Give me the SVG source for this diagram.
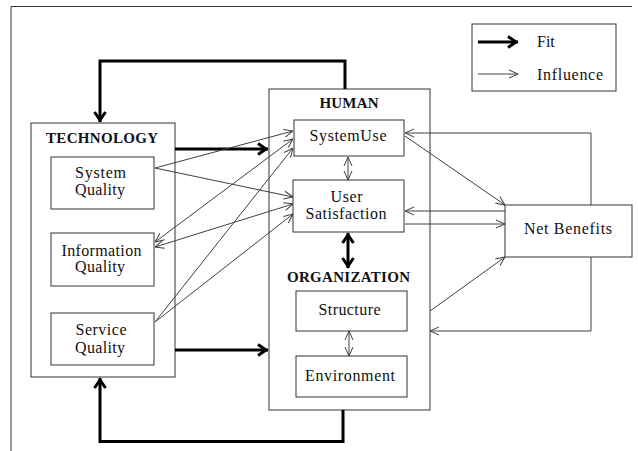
<svg xmlns="http://www.w3.org/2000/svg" width="638" height="451" viewBox="0 0 638 451">
<defs>
<style>
.box{fill:#fff;stroke:#333;stroke-width:1}
.t{font-family:"Liberation Serif","Times New Roman",serif;font-size:16px;fill:#111;text-anchor:middle}
.h{font-weight:bold;font-size:15px}
.thin{fill:none;stroke:#404040;stroke-width:1}
.thick{fill:none;stroke:#000;stroke-width:3}
</style>
<marker id="ah" viewBox="0 0 10 10" refX="10" refY="5" markerWidth="10" markerHeight="10" markerUnits="userSpaceOnUse" orient="auto-start-reverse">
<path d="M1,1 L10,5 L1,9" fill="none" stroke="#404040" stroke-width="1"/>
</marker>
<marker id="ahk" viewBox="0 0 14 14" refX="13" refY="7" markerWidth="14" markerHeight="14" markerUnits="userSpaceOnUse" orient="auto-start-reverse">
<path d="M3,1.5 L11,7 L3,12.5" fill="none" stroke="#000" stroke-width="3"/>
</marker>
</defs>
<rect width="638" height="451" fill="#fff"/>
<path d="M11,451 V6.5 H632" fill="none" stroke="#333" stroke-width="1"/>

<g id="legend">
<rect class="box" x="472" y="24" width="144" height="67"/>
<path class="thick" d="M478,42 H518" marker-end="url(#ahk)"/>
<path class="thin" d="M478,74 H518" marker-end="url(#ah)"/>
<text class="t" x="537" y="47" style="text-anchor:start">Fit</text>
<text class="t" x="537" y="80" style="text-anchor:start" textLength="66" lengthAdjust="spacing">Influence</text>
</g>

<g id="technology">
<rect class="box" x="31" y="123" width="144" height="254"/>
<text class="t h" x="102" y="143" textLength="112" lengthAdjust="spacing">TECHNOLOGY</text>
</g>

<g id="human">
<rect class="box" x="269" y="89" width="161" height="321"/>
<text class="t h" x="349" y="108" textLength="59" lengthAdjust="spacing">HUMAN</text>
<text class="t h" x="348.5" y="281.5" textLength="123" lengthAdjust="spacing">ORGANIZATION</text>
</g>

<g id="connectors">
<path class="thick" d="M345,89 V61 H100 V122" marker-end="url(#ahk)"/>
<path class="thick" d="M343,410 V441.5 H100 V378" marker-end="url(#ahk)"/>
<path class="thick" d="M175,149 H268" marker-end="url(#ahk)"/>
<path class="thick" d="M175,350 H268" marker-end="url(#ahk)"/>
<path class="thick" d="M348,233 V268" marker-start="url(#ahk)" marker-end="url(#ahk)"/>

<path class="thin" d="M348,157 V180" marker-start="url(#ah)" marker-end="url(#ah)"/>
<path class="thin" d="M349,331 V356" marker-start="url(#ah)" marker-end="url(#ah)"/>

<path class="thin" d="M155,168 L293,131" marker-end="url(#ah)"/>
<path class="thin" d="M155,168 L293,197" marker-end="url(#ah)"/>
<path class="thin" d="M155,242 L293,139" marker-start="url(#ah)" marker-end="url(#ah)"/>
<path class="thin" d="M155,247 L293,204" marker-start="url(#ah)" marker-end="url(#ah)"/>
<path class="thin" d="M155,322 L293,148" marker-end="url(#ah)"/>
<path class="thin" d="M155,322 L293,214" marker-end="url(#ah)"/>

<path class="thin" d="M591,205 V133 H405" marker-end="url(#ah)"/>
<path class="thin" d="M405,136 L505,205" marker-end="url(#ah)"/>
<path class="thin" d="M505,211 H405" marker-end="url(#ah)"/>
<path class="thin" d="M405,224 H505" marker-end="url(#ah)"/>
<path class="thin" d="M430,311 L505,257" marker-end="url(#ah)"/>
<path class="thin" d="M591,257 V331 H430" marker-end="url(#ah)"/>
</g>

<g id="system-quality">
<rect class="box" x="51" y="157" width="103" height="52"/>
<text class="t" x="100.5" y="178" textLength="51" lengthAdjust="spacing">System</text>
<text class="t" x="100" y="195" textLength="50" lengthAdjust="spacing">Quality</text>
</g>
<g id="information-quality">
<rect class="box" x="51" y="233" width="103" height="53"/>
<text class="t" x="101.5" y="255.5" textLength="80" lengthAdjust="spacing">Information</text>
<text class="t" x="100" y="272" textLength="50" lengthAdjust="spacing">Quality</text>
</g>
<g id="service-quality">
<rect class="box" x="51" y="313" width="103" height="52"/>
<text class="t" x="101" y="335" textLength="51" lengthAdjust="spacing">Service</text>
<text class="t" x="100" y="352.5" textLength="50" lengthAdjust="spacing">Quality</text>
</g>
<g id="system-use">
<rect class="box" x="294" y="120" width="110" height="36"/>
<text class="t" x="348" y="141" textLength="77" lengthAdjust="spacing">SystemUse</text>
</g>
<g id="user-satisfaction">
<rect class="box" x="293" y="180" width="111" height="52"/>
<text class="t" x="346.5" y="202" textLength="32" lengthAdjust="spacing">User</text>
<text class="t" x="346" y="219" textLength="81" lengthAdjust="spacing">Satisfaction</text>
</g>
<g id="structure">
<rect class="box" x="296" y="291" width="111" height="40"/>
<text class="t" x="349.5" y="315" textLength="62" lengthAdjust="spacing">Structure</text>
</g>
<g id="environment">
<rect class="box" x="296" y="356" width="111" height="41"/>
<text class="t" x="350" y="380.5" textLength="90" lengthAdjust="spacing">Environment</text>
</g>
<g id="net-benefits">
<rect class="box" x="505" y="205" width="127" height="52"/>
<text class="t" x="568" y="234" textLength="88" lengthAdjust="spacing">Net Benefits</text>
</g>
</svg>
